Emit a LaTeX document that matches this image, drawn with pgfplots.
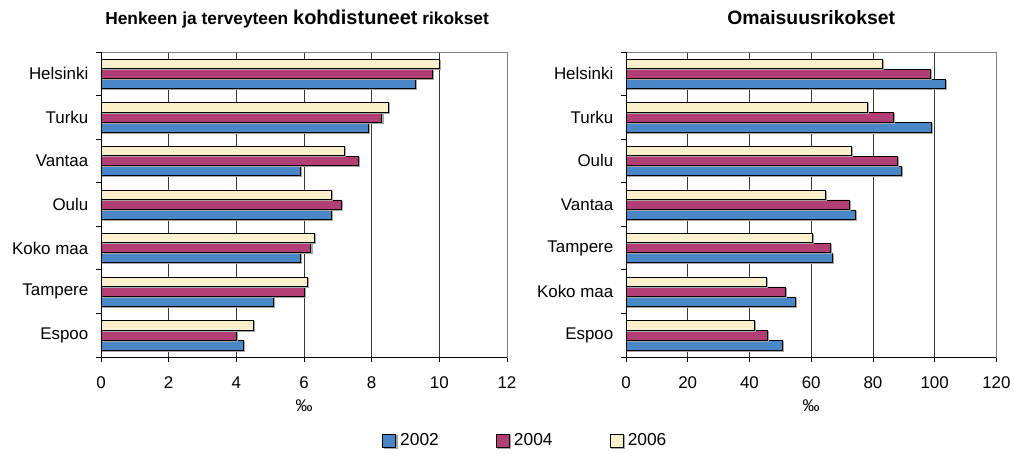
\documentclass[border=0pt]{standalone}
\usepackage{fontspec}
\setmainfont{Liberation Sans}
\usepackage{pgfplots}
\usepackage{pgfplotstable}
\pgfplotsset{compat=1.18}
\definecolor{c02}{RGB}{74,135,198}
\definecolor{c04}{RGB}{178,62,116}
\definecolor{c06}{RGB}{250,241,204}
\definecolor{gridc}{RGB}{55,55,55}

% left chart: crimes against life and health (per mille)
\pgfplotstableread{
pos y2002 y2004 y2006
0 9.3 9.8 10.0
1 7.9 8.3 8.5
2 5.9 7.6 7.2
3 6.8 7.1 6.8
4 5.9 6.2 6.3
5 5.1 6.0 6.1
6 4.2 4.0 4.5
}\lefttab
% right chart: property crimes (per mille)
\pgfplotstableread{
pos y2002 y2004 y2006
0 103.5 98.6 82.9
1 98.9 86.5 78.3
2 89.3 87.8 73.0
3 74.3 72.2 64.5
4 66.9 66.1 60.5
5 54.8 51.5 45.5
6 50.5 45.8 41.6
}\righttab

\pgfplotsset{
  mybars/.style={
    xbar, scale only axis, height=228.75pt,
    y dir=reverse, ymin=-0.5, ymax=6.5, xmin=0,
    ytick={0,...,6},
    minor ytick={-0.5,0.5,...,6.5},
    major y tick style={draw=none},
    minor y tick style={black, line width=0.6pt},
    minor tick length=4pt, major tick length=4pt,
    tick align=outside, xtick pos=bottom, ytick pos=left,
    xmajorgrids, major grid style={gridc, line width=0.6pt},
    axis line style={gray, line width=0.6pt},
    x tick style={black, line width=0.6pt},
    tick label style={font=\fontsize{12.7}{14}\selectfont},
    /pgf/number format/assume math mode=true,
    xticklabel style={yshift=-7pt},
    yticklabel style={xshift=-2pt},
    xlabel={‰},
    xlabel style={font=\fontsize{12.7}{14}\selectfont, at={(axis description cs:0.5,0)}, anchor=base, yshift=-41pt},
    title style={anchor=base, yshift=15pt},
    bar width=7pt,
    after end axis/.code={\draw[black, line width=0.7pt] (rel axis cs:0,1) -- (rel axis cs:0,0) -- (rel axis cs:1,0);},
    every axis plot post/.append style={draw=black, line width=0.5pt,
      preaction={draw=gray!70, fill=gray!70, line width=0.5pt, transform canvas={shift={(0.8pt,-0.8pt)}}},
      legend image code/.code={\draw[##1, draw=black, line width=0.6pt] (0pt,-4.9pt) rectangle (9.8pt,4.9pt);}},
  }
}

\begin{document}
\begin{tikzpicture}
\useasboundingbox (-75.75pt,-73.5pt) rectangle (684.75pt,267.75pt);
\begin{axis}[mybars, width=304.5pt, xmax=12, xtick={0,2,...,12},
  yticklabels={Helsinki,Turku,Vantaa,Oulu,Koko maa,Tampere,Espoo},
  title={\fontsize{13}{15}\selectfont\bfseries Henkeen ja terveyteen {\fontsize{15}{17}\selectfont kohdistuneet} rikokset},
  title style={at={(0.483,1)}},
  legend columns=3,
  legend style={draw=none, at={(1.046,-0.275)}, anchor=center, font=\fontsize{13}{15}\selectfont,
    /tikz/every even column/.append style={column sep=41pt},
    /tikz/every odd column/.append style={column sep=1pt}},
]
\addplot[fill=c02, bar shift=-7.5pt] table[x=y2002, y=pos] {\lefttab};
\addplot[fill=c04, bar shift=0pt] table[x=y2004, y=pos] {\lefttab};
\addplot[fill=c06, bar shift=7.5pt] table[x=y2006, y=pos] {\lefttab};
\legend{2002,2004,2006}
\end{axis}
\begin{axis}[mybars, at={(393.75pt,0pt)}, width=277.8pt, xmax=120, xtick={0,20,...,120},
  yticklabels={Helsinki,Turku,Oulu,Vantaa,Tampere,Koko maa,Espoo},
  title={\fontsize{14.5}{17}\selectfont\bfseries Omaisuusrikokset},
  title style={at={(0.5,1)}},
]
\addplot[fill=c02, bar shift=-7.5pt] table[x=y2002, y=pos] {\righttab};
\addplot[fill=c04, bar shift=0pt] table[x=y2004, y=pos] {\righttab};
\addplot[fill=c06, bar shift=7.5pt] table[x=y2006, y=pos] {\righttab};
\end{axis}
\end{tikzpicture}
\end{document}
